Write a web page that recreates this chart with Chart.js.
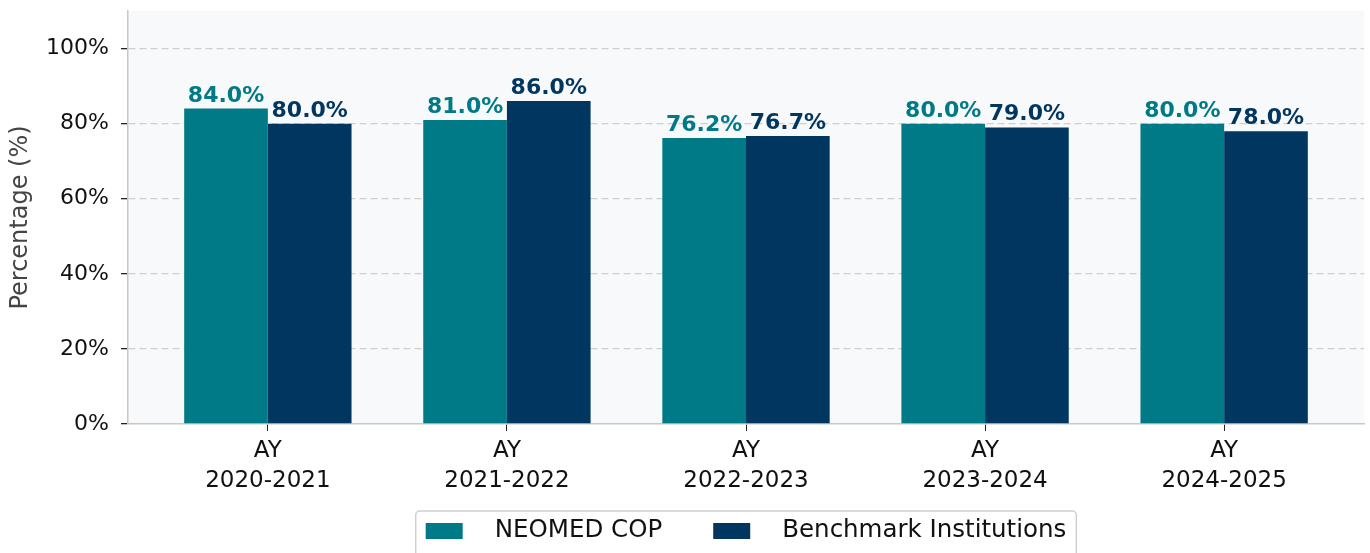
<!DOCTYPE html>
<html>
<head>
<meta charset="utf-8">
<script src="https://cdn.jsdelivr.net/npm/chart.js@4.4.1/dist/chart.umd.min.js"></script>
<style>
  html, body { margin: 0; padding: 0; background: #fff; }
  canvas { display: block; }
</style>
</head>
<body>
<canvas id="chart" width="1370" height="553"></canvas>
<script>
// ---------------- DATA ----------------
const years = ["2020-2021", "2021-2022", "2022-2023", "2023-2024", "2024-2025"];
const neomedCop = [84.0, 81.0, 76.2, 80.0, 80.0];
const benchmark = [80.0, 86.0, 76.7, 79.0, 78.0];
const yTicks = [0, 20, 40, 60, 80, 100];
const seriesNames = ["NEOMED COP", "Benchmark Institutions"];

const TEAL = "#007A87";
const NAVY = "#00365F";
const FONT = "'DejaVu Sans', sans-serif";

// ---------------- PLUGINS ----------------
const bgPlugin = {
    id: "bg",
    beforeDraw(chart) {
        const ctx = chart.ctx;
        const a = chart.chartArea;
        ctx.save();
        ctx.fillStyle = "#ffffff";
        ctx.fillRect(0, 0, chart.width, chart.height);
        ctx.fillStyle = "#f8f9fb";
        ctx.fillRect(a.left, a.top, a.right - a.left, a.bottom - a.top);
        ctx.restore();
    }
};

const valueLabels = {
    id: "valueLabels",
    afterDatasetsDraw(chart) {
        const ctx = chart.ctx;
        ctx.save();
        ctx.font = "bold 22px " + FONT;
        ctx.textAlign = "center";
        ctx.textBaseline = "alphabetic";
        chart.data.datasets.forEach((ds, i) => {
            const meta = chart.getDatasetMeta(i);
            ctx.fillStyle = ds.backgroundColor;
            meta.data.forEach((bar, j) => {
                ctx.fillText(ds.data[j].y.toFixed(1) + "%", bar.x, bar.y - 7);
            });
        });
        ctx.restore();
    }
};

// matplotlib-like legend box under the axis
const boxLegend = {
    id: "boxLegend",
    afterDraw(chart) {
        const ctx = chart.ctx;
        const a = chart.chartArea;
        ctx.save();
        ctx.font = "24.5px " + FONT;
        const sw = 37, gap = 32, itemGap = 51, pad = 10;
        const widths = seriesNames.map(n => ctx.measureText(n).width);
        let total = pad * 2;
        widths.forEach((w, i) => { total += sw + gap + w + (i > 0 ? itemGap : 0); });
        const cx = (a.left + a.right) / 2;
        const left = cx - total / 2;
        const top = 511;
        // frame
        ctx.fillStyle = "rgba(255,255,255,0.9)";
        ctx.strokeStyle = "#d0d0d0";
        ctx.lineWidth = 1.5;
        ctx.beginPath();
        ctx.roundRect(left, top, total, 60, 4);
        ctx.fill();
        ctx.stroke();
        // items
        let x = left + pad;
        const cy = 531;
        chart.data.datasets.forEach((ds, i) => {
            if (i > 0) x += itemGap;
            ctx.fillStyle = ds.backgroundColor;
            ctx.fillRect(x, cy - 8, sw, 16);
            x += sw + gap;
            ctx.fillStyle = "#111";
            ctx.textBaseline = "middle";
            ctx.textAlign = "left";
            ctx.fillText(seriesNames[i], x, cy);
            x += widths[i];
        });
        ctx.restore();
    }
};

// ---------------- CHART ----------------
function initChart() {
    const ctx = document.getElementById("chart").getContext("2d");
    new Chart(ctx, {
        type: "bar",
        data: {
            datasets: [{
                label: seriesNames[0],
                data: neomedCop.map((v, i) => ({ x: i, y: v })),
                backgroundColor: TEAL,
                categoryPercentage: 0.7,
                barPercentage: 1.0
            }, {
                label: seriesNames[1],
                data: benchmark.map((v, i) => ({ x: i, y: v })),
                backgroundColor: NAVY,
                categoryPercentage: 0.7,
                barPercentage: 1.0
            }]
        },
        options: {
            responsive: false,
            animation: false,
            layout: { padding: { top: 11, right: 6, bottom: 0, left: 0 } },
            plugins: {
                legend: { display: false },
                tooltip: { enabled: false }
            },
            scales: {
                x: {
                    type: "linear",
                    min: -0.585,
                    max: 4.585,
                    offset: false,
                    afterBuildTicks(scale) {
                        scale.ticks = years.map((y, i) => ({ value: i }));
                    },
                    afterFit(scale) { scale.height = 129; },
                    grid: {
                        offset: false,
                        drawOnChartArea: false,
                        drawTicks: true,
                        tickLength: 7,
                        tickColor: "#222",
                        color: "#222"
                    },
                    border: { display: true, color: "#c8c8c8", width: 1.5 },
                    ticks: {
                        padding: 5,
                        color: "#111",
                        font: { family: FONT, size: 23, lineHeight: 1.3 },
                        autoSkip: false,
                        maxRotation: 0,
                        callback: v => ["AY", years[v]]
                    }
                },
                y: {
                    min: 0,
                    max: 110,
                    afterBuildTicks(scale) {
                        scale.ticks = yTicks.map(v => ({ value: v }));
                    },
                    afterFit(scale) {
                        scale.width = 128;
                        scale.paddingTop = 0;
                        scale.paddingBottom = 0;
                    },
                    grid: {
                        color: c => (c.tick && c.tick.value === 0) ? "rgba(0,0,0,0)" : "#cfcfcf",
                        lineWidth: 1.3,
                        tickLength: 7,
                        tickColor: "#222"
                    },
                    border: { display: true, color: "#c8c8c8", width: 1.5, dash: [7, 4] },
                    ticks: {
                        padding: 12,
                        color: "#111",
                        font: { family: FONT, size: 22 },
                        callback: v => v + "%"
                    },
                    title: {
                        display: true,
                        text: "Percentage (%)",
                        color: "#444",
                        font: { family: FONT, size: 24 },
                        padding: { top: 6, bottom: 0 }
                    }
                }
            }
        },
        plugins: [bgPlugin, valueLabels, boxLegend]
    });
}

window.onload = initChart;
</script>
</body>
</html>
